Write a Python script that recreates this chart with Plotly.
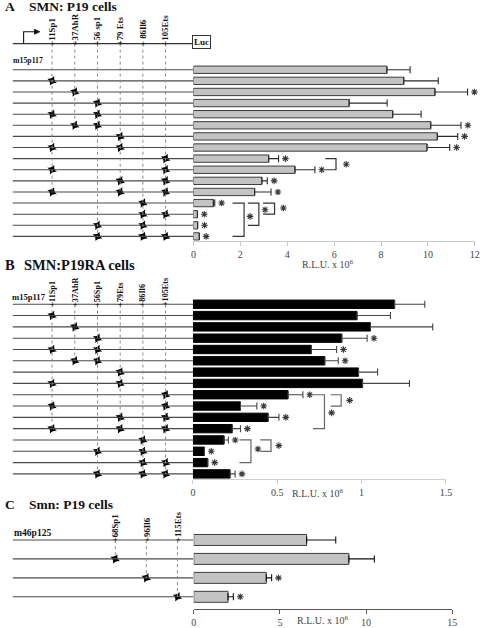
import plotly.graph_objects as go

W, H = 488, 628
SERIF = "Liberation Serif"

# ---------------- data ----------------
sites_A = ["+11Sp1", "+37AhR", "+56 sp1", "+79 Ets", "+ 86Il6", "+105Ets"]
mut_A = [[], [0], [1], [2], [0, 2], [1, 2], [3], [0, 3], [5], [0, 5], [3, 5], [0, 3, 5],
         [4], [4, 5], [2, 4], [2, 4, 5]]
rlu_A = [8.25, 8.97, 10.30, 6.64, 8.50, 10.12, 10.40, 9.96, 3.21, 4.33, 2.92, 2.61,
         0.85, 0.17, 0.18, 0.25]
sd_A = [0.99, 1.47, 1.39, 1.62, 1.21, 1.29, 0.87, 0.97, 0.42, 0.85, 0.23, 0.70,
        0.06, None, None, None]
sig_A = [0, 0, 1, 0, 0, 1, 1, 1, 1, 1, 1, 1, 1, 1, 1, 1]
pairs_A = [(9, 10), (13, 14), (13, 15), (13, 16)]
ticks_A = [0, 2, 4, 6, 8, 10, 12]
ticktext_A = ["0", "2", "4", "6", "8", "10", "12"]

sites_B = ["+11Sp1", "+37AhR", "+56Sp1", "+79Ets", "+86Il6", "+105Ets"]
mut_B = [[], [0], [1], [2], [0, 2], [1, 2], [3], [0, 3], [5], [0, 5], [3, 5], [0, 3, 5],
         [4], [2, 4], [4, 5], [2, 4, 5]]
rlu_B = [1.196, 0.973, 1.053, 0.883, 0.702, 0.782, 0.982, 1.006, 0.564, 0.282, 0.446,
         0.233, 0.185, 0.068, 0.088, 0.220]
sd_B = [0.179, 0.198, 0.369, 0.150, 0.150, 0.080, 0.113, 0.278, 0.088, 0.097, 0.064,
        0.049, 0.025, None, None, 0.030]
sig_B = [0, 0, 0, 1, 1, 1, 0, 0, 1, 1, 1, 1, 1, 1, 1, 1]
pairs_B = [(9, 10), (9, 12), (13, 14), (13, 15)]
ticks_B = [0, 0.5, 1, 1.5]
ticktext_B = ["0", "0.5", "1", "1.5"]

sites_C = ["+68Sp1", "+96Il6", "+115Ets"]
mut_C = [[], [0], [1], [2]]
rlu_C = [6.55, 9.00, 4.21, 1.99]
sd_C = [1.69, 1.48, 0.31, 0.31]
sig_C = [0, 0, 1, 1]
ticks_C = [0, 5, 10, 15]
ticktext_C = ["0", "5", "10", "15"]

construct_AB = "m15p117"
construct_C = "m46p125"

# ---------------- layout helpers ----------------
def px(x):
    return x / W


def py(y):
    return 1 - y / H


fig = go.Figure()
layout = dict(width=W, height=H, margin=dict(l=0, r=0, t=0, b=0),
              paper_bgcolor="white", plot_bgcolor="rgba(0,0,0,0)",
              showlegend=False, font=dict(family=SERIF, color="#222"))
shapes = []
annotations = []

panels = [
    dict(n="", sch="4", sites=sites_A, mut=mut_A, rlu=rlu_A, sd=sd_A, sig=sig_A,
         pairs=pairs_A, ticks=ticks_A, ticktext=ticktext_A, xmax=12,
         bx0=194, bx1=480.7, ytop=8, ybot=242.7, row1=70.3, step=11.2,
         s0=50, ds=23.13, lab_bot=47, lab_size=8.8, bar_w=0.66,
         fill="#c3c3c3", edge="#3c3c3c", err="#2a2a2a", axis="#c8c8c8",
         title=("A", "SMN: P19 cells", 6.5, 13.5, 24), cons=(construct_AB, 61, 7.8, 8),
         brk=[(5.62, 6.08, 6.39, 9.5), (2.97, 3.46, 3.71, 13.45),
              (2.32, 2.79, 2.93, 13.6), (1.67, 2.16, 2.29, 14.2)],
         brk_col="#333", xtitle=(331, 266)),
    dict(n="2", sch="5", sites=sites_B, mut=mut_B, rlu=rlu_B, sd=sd_B, sig=sig_B,
         pairs=pairs_B, ticks=ticks_B, ticktext=ticktext_B, xmax=1.5,
         bx0=193.5, bx1=451.2, ytop=270, ybot=483.3, row1=306.7, step=11.4,
         s0=50, ds=23.13, lab_bot=310, lab_size=8.2, bar_w=0.74,
         fill="#000000", edge="#000000", err="#444444", axis="#cfcfcf",
         title=("B", "SMN:P19RA cells", 267, 14.5, 19), cons=(construct_AB, 299, 8.6, 7),
         brk=[(0.817, 0.879, 0.912, 9.5), (0.712, 0.780, 0.805, 10.6),
              (0.399, 0.463, 0.492, 13.5), (0.276, 0.344, 0.368, 13.8)],
         brk_col="#666", xtitle=(321, 497)),
    dict(n="3", sch="6", sites=sites_C, mut=mut_C, rlu=rlu_C, sd=sd_C, sig=sig_C,
         pairs=[], ticks=ticks_C, ticktext=ticktext_C, xmax=15,
         bx0=194.3, bx1=457.7, ytop=508, ybot=614, row1=544.3, step=19.1,
         s0=114.3, ds=31.7, lab_bot=547.5, lab_size=8.8, bar_w=0.58,
         fill="#c3c3c3", edge="#3c3c3c", err="#111111", axis="#555555",
         title=("C", "Smn: P19 cells", 509, 13.5, 24), cons=(construct_C, 536.7, 9.6, 9),
         brk=[], brk_col="#333", xtitle=(326, 625)),
]

for p in panels:
    n = len(p["rlu"])
    rows = list(range(1, n + 1))
    yv = lambda pix, p=p: 1 + (pix - p["row1"]) / p["step"]
    yname = "y" + p["n"]
    xname = "x" + p["n"]
    sname = "x" + p["sch"]
    ydomain = [py(p["ybot"]), py(p["ytop"])]
    unit_px = (p["bx1"] - p["bx0"]) / p["xmax"]

    layout["yaxis" + p["n"]] = dict(domain=ydomain, range=[yv(p["ybot"]), yv(p["ytop"])],
                                   visible=False, fixedrange=True,
                                   anchor=xname)
    layout["xaxis" + p["n"]] = dict(domain=[px(p["bx0"]), px(p["bx1"])], range=[0, p["xmax"]],
                                   anchor=yname, showline=True, linecolor=p["axis"],
                                   linewidth=1, ticks="outside", ticklen=4,
                                   tickcolor=p["axis"], tickvals=p["ticks"],
                                   ticktext=p["ticktext"], showgrid=False,
                                   zeroline=False, fixedrange=True,
                                   tickfont=dict(family=SERIF, size=10, color="#444"))
    s_lo = (0 - p["s0"]) / p["ds"]
    s_hi = (194 - p["s0"]) / p["ds"]
    layout["xaxis" + p["sch"]] = dict(domain=[0, px(194)], range=[s_lo, s_hi],
                                     anchor=yname, visible=False, fixedrange=True)

    # construct lines
    lx0 = (10 - p["s0"]) / p["ds"]
    for r in rows:
        shapes.append(dict(type="line", xref=sname, yref=yname, x0=lx0, x1=s_hi,
                           y0=r, y1=r, line=dict(color="#4a4a4a", width=1.1)))

    # site labels + dotted guide lines
    for i, lab in enumerate(p["sites"]):
        last = max(r for r, m in zip(rows, p["mut"]) if i in m)
        shapes.append(dict(type="line", xref=sname, yref=yname, x0=i, x1=i,
                           y0=yv(p["lab_bot"] - 3), y1=last,
                           line=dict(color="#8a8a8a", width=1, dash="dot")))
        annotations.append(dict(xref=sname, yref=yname, x=i, y=yv(p["lab_bot"]),
                                text="<b>%s</b>" % lab, textangle=-90, showarrow=False,
                                xanchor="center", yanchor="bottom", borderpad=0,
                                font=dict(family=SERIF, size=p["lab_size"], color="#111")))

    # mutation markers
    mx, my = [], []
    for r, m in zip(rows, p["mut"]):
        for i in m:
            mx.append(i)
            my.append(r)
    fig.add_trace(go.Scatter(x=mx, y=my, xaxis=sname, yaxis=yname, mode="markers",
                             marker=dict(symbol="star-diamond", size=7.5, angle=25,
                                         color="black", line=dict(width=0)),
                             hoverinfo="skip"))

    # bars
    fig.add_trace(go.Bar(x=p["rlu"], y=rows, orientation="h", xaxis=xname, yaxis=yname,
                         width=p["bar_w"],
                         marker=dict(color=p["fill"], line=dict(color=p["edge"], width=1)),
                         error_x=dict(type="data", symmetric=False,
                                      array=p["sd"], arrayminus=[0] * n,
                                      color=p["err"], thickness=1.1, width=3.5)))

    # comparison brackets
    for (ra, rb), (x0, x1, xs, ys) in zip(p["pairs"], p["brk"]):
        shapes.append(dict(type="path", xref=xname, yref=yname,
                           path="M %f,%f L %f,%f L %f,%f L %f,%f" % (x0, ra, x1, ra, x1, rb, x0, rb),
                           line=dict(color=p["brk_col"], width=1.2)))

    # significance asterisks (per bar and per bracket)
    sx, sy = [], []
    for r, v, s, g in zip(rows, p["rlu"], p["sd"], p["sig"]):
        if g:
            sx.append(v + (s or 0) + 7 / unit_px)
            sy.append(r)
    for (x0, x1, xs, ys) in p["brk"]:
        sx.append(xs + 3 / unit_px)
        sy.append(ys)
    fig.add_trace(go.Scatter(x=sx, y=sy, xaxis=xname, yaxis=yname, mode="markers",
                             marker=dict(symbol="asterisk-open", size=5.5, color="#3a3a3a",
                                         line=dict(color="#3a3a3a", width=1.1)),
                             hoverinfo="skip", cliponaxis=False))

    # axis title
    annotations.append(dict(xref="paper", yref="paper", x=px(p["xtitle"][0]),
                            y=py(p["xtitle"][1]), text="R.L.U. x 10<sup>6</sup>",
                            showarrow=False, xanchor="center", yanchor="middle",
                            font=dict(family=SERIF, size=10, color="#444")))

    # panel titles
    letter, ttl, ty, tsz, tx = p["title"]
    annotations.append(dict(xref="paper", yref="paper", x=px(0), y=py(ty),
                            text="<b>%s</b>" % letter, showarrow=False,
                            xanchor="left", yanchor="middle",
                            font=dict(family=SERIF, size=tsz, color="#111")))
    annotations.append(dict(xref="paper", yref="paper", x=px(tx), y=py(ty),
                            text="<b>%s</b>" % ttl, showarrow=False,
                            xanchor="left", yanchor="middle",
                            font=dict(family=SERIF, size=tsz, color="#111")))

    # construct name
    cname, cy, csz, cx = p["cons"]
    annotations.append(dict(xref="paper", yref="paper", x=px(cx), y=py(cy),
                            text="<b>%s</b>" % cname, showarrow=False,
                            xanchor="left", yanchor="middle",
                            font=dict(family=SERIF, size=csz, color="#111")))

# promoter line, TSS arrow and Luc box (panel A header)
shapes.append(dict(type="line", xref="paper", yref="paper", x0=px(10), x1=px(193),
                   y0=py(44), y1=py(44), line=dict(color="#333", width=1.1)))
shapes.append(dict(type="path", xref="paper", yref="paper",
                   path="M %f,%f L %f,%f L %f,%f" % (px(21), py(44), px(21), py(32), px(33), py(32)),
                   line=dict(color="#111", width=1.1)))
shapes.append(dict(type="path", xref="paper", yref="paper",
                   path="M %f,%f L %f,%f L %f,%f Z" % (px(32), py(29.5), px(37.5), py(32), px(32), py(34.5)),
                   fillcolor="#111", line=dict(color="#111", width=0.8)))
annotations.append(dict(xref="paper", yref="paper", x=px(202), y=py(42.5),
                        text="<b>Luc</b>", showarrow=False, xanchor="center",
                        yanchor="middle", bordercolor="#333", borderwidth=1,
                        borderpad=1, bgcolor="white",
                        font=dict(family=SERIF, size=9, color="#111")))

layout["shapes"] = shapes
layout["annotations"] = annotations
fig.update_layout(**layout)
fig.write_html("out.html", config={"displayModeBar": False},
               post_script="document.body.style.margin='0';document.body.style.overflow='hidden';")
